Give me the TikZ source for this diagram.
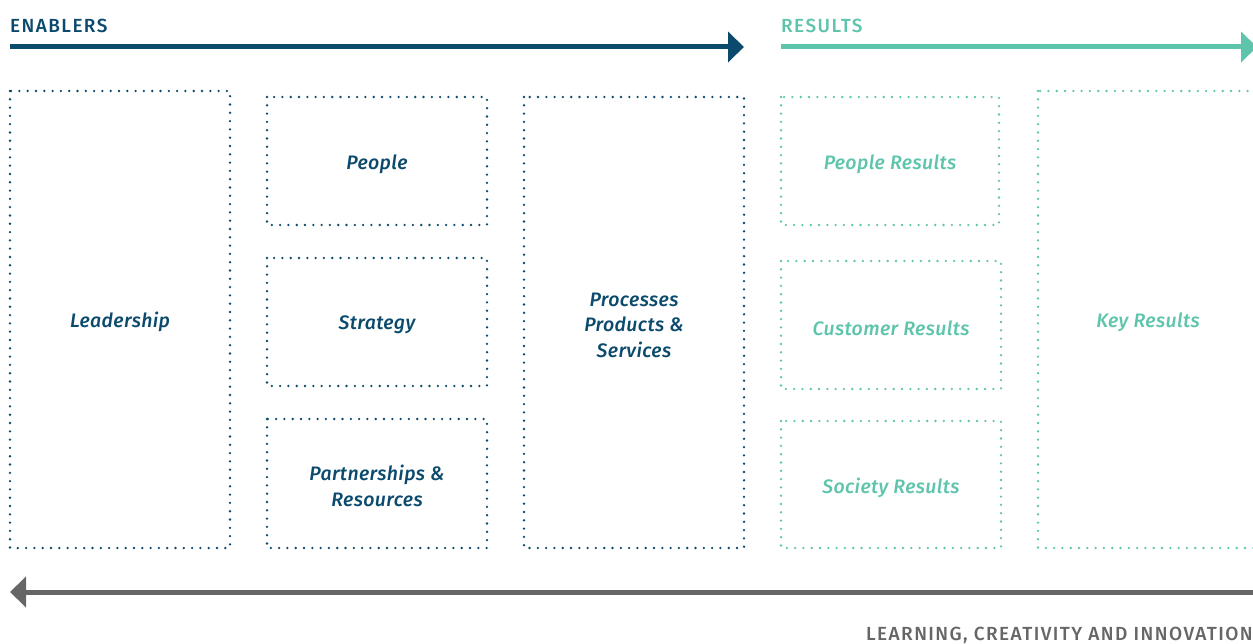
\documentclass[tikz,border=0pt]{standalone}
\usepackage{fontspec}
\setmainfont{Fira Sans}
\newfontfamily\lblfont{Fira Sans Medium}[ItalicFont={Fira Sans Medium Italic}, LetterSpace=2]
\newfontfamily\hdrfont{Fira Sans Medium}[LetterSpace=7.5]
\usetikzlibrary{arrows.meta}
\definecolor{navy}{HTML}{0B4A6C}
\definecolor{teal}{HTML}{5EC4AC}
\definecolor{greyline}{HTML}{666666}
\tikzset{
  dotbox/.style={line width=2.6pt, line cap=round, dash pattern=on 0pt off 8.3pt},
  lbl/.style={font=\lblfont\itshape\fontsize{19.5}{25.5}\selectfont, align=center},
  hdr/.style={font=\hdrfont\fontsize{19}{22}\selectfont, anchor=base west, inner sep=0pt},
  bigarrow/.style={line width=5pt, -{Triangle[length=16pt,width=30pt]}},
}
\begin{document}
\begin{tikzpicture}[x=1pt,y=-1pt]
\useasboundingbox (0,0) rectangle (1253,644);
\clip (0,0) rectangle (1253,644);
% headers
\node[hdr, text=navy] (enab) at (10,33) {ENABLERS};
\node[hdr, text=teal] (res) at (781,33) {RESULTS};
\node[hdr, text=greyline] (lci) at (866,640) {LEARNING, CREATIVITY AND INNOVATION};
% arrows
\coordinate (ea) at (10,47); \coordinate (eb) at (744,47);
\coordinate (ra) at (781,47); \coordinate (rb) at (1257,47);
\coordinate (ga) at (1260,592); \coordinate (gb) at (10,592);
\draw[bigarrow, navy] (ea) -- (eb);
\draw[bigarrow, teal] (ra) -- (rb);
\draw[bigarrow, greyline] (ga) -- (gb);
% enabler boxes
\draw[dotbox, navy] (10,91) rectangle (230,548);
\draw[dotbox, navy] (267,97) rectangle (487,225);
\draw[dotbox, navy] (267,258) rectangle (487,386);
\draw[dotbox, navy] (267,419) rectangle (487,548);
\draw[dotbox, navy] (524,97) rectangle (744,548);
% result boxes
\draw[dotbox, teal] (781,97) rectangle (999,225);
\draw[dotbox, teal] (781,261) rectangle (1001,389);
\draw[dotbox, teal] (781,421) rectangle (1001,548);
\draw[dotbox, teal] (1038,91) rectangle (1300,548);
% labels
\node[lbl, text=navy] (lead) at (120,322) {Leadership};
\node[lbl, text=navy] (peop) at (377,164) {People};
\node[lbl, text=navy] (strat) at (377,325) {Strategy};
\node[lbl, text=navy] (part) at (377,486) {Partnerships \&\\Resources};
\node[lbl, text=navy] (proc) at (634,325) {Processes\\Products \&\\Services};
\node[lbl, text=teal] (pres) at (890,164) {People Results};
\node[lbl, text=teal] (cres) at (891,328) {Customer Results};
\node[lbl, text=teal] (sres) at (891,488) {Society Results};
\node[lbl, text=teal] (kres) at (1148,322) {Key Results};
\end{tikzpicture}
\end{document}
